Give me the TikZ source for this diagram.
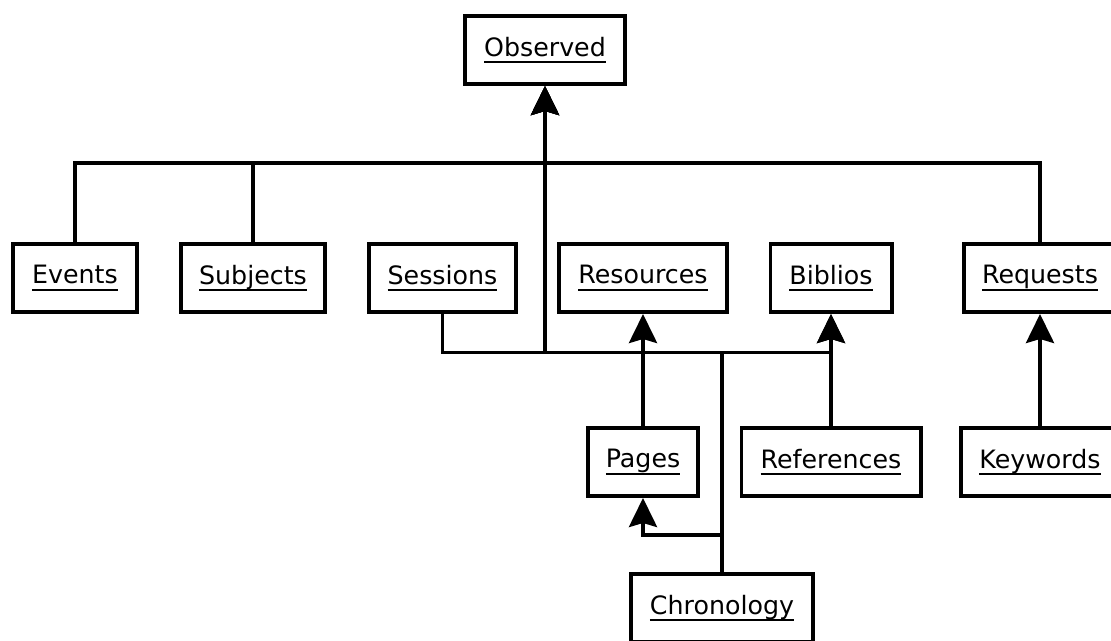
\documentclass[tikz,border=0pt]{standalone}
\usepackage{fontspec}
\setmainfont{DejaVu Sans}
\usetikzlibrary{arrows.meta}
\newcommand\ulbox[1]{\setbox0\hbox{#1}\rlap{\rule[-7pt]{\wd0}{2pt}}\box0}
\tikzset{
  ent/.style={draw, line width=3.8pt, minimum height=68.2pt, inner sep=0pt,
    font=\fontsize{25.3pt}{29pt}\selectfont, fill=white},
  conn/.style={line width=3.8pt},
  arr/.style={conn, -{Stealth[length=29pt, width=28pt, inset=4pt]}},
}
\begin{document}
\begin{tikzpicture}[x=1pt, y=-1pt]
\useasboundingbox (0,0) rectangle (1111,640);
\clip (0,0) rectangle (1111,640);
% nodes
\node[ent, minimum width=160.2pt] (Observed) at (545,50) {\ulbox{Observed}};
\node[ent, minimum width=124.2pt] (Events) at (75,278) {\ulbox{Events}};
\node[ent, minimum width=144.2pt] (Subjects) at (253,278) {\ulbox{Subjects}};
\node[ent, minimum width=147.2pt] (Sessions) at (442.5,278) {\ulbox{Sessions}};
\node[ent, minimum width=168.2pt] (Resources) at (643,278) {\ulbox{Resources}};
\node[ent, minimum width=121.2pt] (Biblios) at (831,278) {\ulbox{Biblios}};
\node[ent, minimum width=152.2pt] (Requests) at (1040,278) {\ulbox{Requests}};
\node[ent, minimum width=110.2pt] (Pages) at (643,462) {\ulbox{Pages}};
\node[ent, minimum width=179.2pt] (References) at (831,462) {\ulbox{References}};
\node[ent, minimum width=158.2pt] (Keywords) at (1040,462) {\ulbox{Keywords}};
\node[ent, minimum width=182.2pt] (Chronology) at (722,608) {\ulbox{Chronology}};
% coordinates of connector bends
\coordinate (bus) at (545,163);
\coordinate (bus2) at (545,352.5);
\coordinate (cj) at (722,352.5);
\coordinate (cp) at (722,535);
% connectors
\draw[arr] (Events.north) |- (bus) -- (Observed.south);
\draw[arr] (Subjects.north) |- (bus) -- (Observed.south);
\draw[arr] (Requests.north) |- (bus) -- (Observed.south);
\draw[arr] (Sessions.south) |- (bus2) -- (Observed.south);
\draw[arr] (Chronology.north) -- (cj) -| (Biblios.south);
\draw[conn] (cj) -- (bus2);
\draw[arr] (Chronology.north) -- (cp) -| (Pages.south);
\draw[arr] (Pages.north) -- (Resources.south);
\draw[arr] (References.north) -- (Biblios.south);
\draw[arr] (Keywords.north) -- (Requests.south);
\end{tikzpicture}
\end{document}
